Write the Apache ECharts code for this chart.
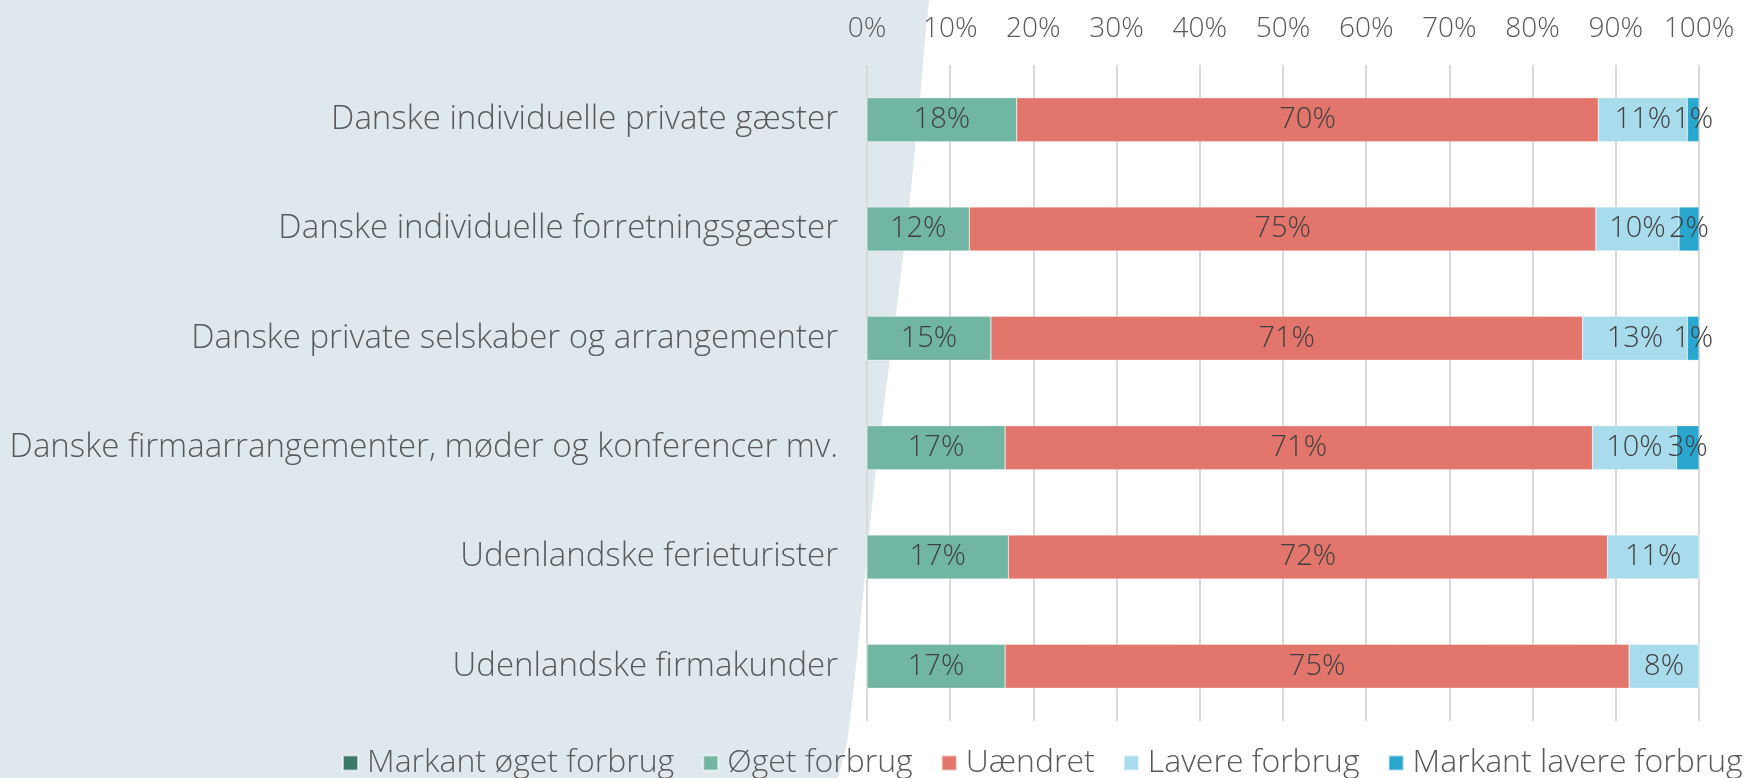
<!DOCTYPE html>
<html>
<head>
<meta charset="utf-8">
<script src="https://cdn.jsdelivr.net/npm/echarts@6/dist/echarts.min.js"></script>
<style>
html,body{margin:0;padding:0;background:#fff;}
#chart{width:1757px;height:778px;}
</style>
</head>
<body>
<div id="chart"></div>
<script>
const categories = [
  'Danske individuelle private gæster',
  'Danske individuelle forretningsgæster',
  'Danske private selskaber og arrangementer',
  'Danske firmaarrangementer, møder og konferencer mv.',
  'Udenlandske ferieturister',
  'Udenlandske firmakunder'
];
const seriesNames = ['Markant øget forbrug', 'Øget forbrug', 'Uændret', 'Lavere forbrug', 'Markant lavere forbrug'];
const markantOget = [0, 0, 0, 0, 0, 0];
const oget = [18.0, 12.3, 14.9, 16.6, 17.0, 16.6];
const uaendret = [69.9, 75.3, 71.1, 70.6, 72.0, 75.0];
const lavere = [10.7, 10.0, 12.6, 10.1, 11.0, 8.4];
const markantLavere = [1.4, 2.4, 1.4, 2.7, 0, 0];
const tickLabels = ['0%','10%','20%','30%','40%','50%','60%','70%','80%','90%','100%'];

const colors = ['#3b7a69', '#70b6a3', '#e2756c', '#a8dcec', '#29a7cf'];
const FONT = '"Open Sans", Lato, sans-serif';
const WEIGHT = 300;

const chart = echarts.init(document.getElementById('chart'), null, {renderer: 'canvas'});

// decorative background shape on the left
const edge = [[929,0],[924,50],[920,99],[910,199],[898,298],[885,397],[873,496],[863,596],[853,695],[847,744],[838,778]];
const shapePts = [[0,0]].concat(edge).concat([[0,778]]);

const allData = [markantOget, oget, uaendret, lavere, markantLavere];

const series = seriesNames.map((name, i) => ({
  name: name,
  type: 'bar',
  stack: 'total',
  barWidth: 44,
  data: allData[i],
  itemStyle: {color: colors[i], borderColor: 'rgba(255,255,255,0.6)', borderWidth: 0.5},
  label: {
    show: true,
    position: 'inside',
    color: '#404040',
    fontFamily: FONT,
    fontWeight: WEIGHT,
    fontSize: 29,
    formatter: p => p.value > 0 ? Math.round(p.value) + '%' : ''
  },
  emphasis: {disabled: true}
}));

chart.setOption({
  animation: false,
  backgroundColor: '#ffffff',
  color: colors,
  graphic: [{
    type: 'polygon',
    z: -10,
    silent: true,
    shape: {points: shapePts},
    style: {fill: '#dfe9ed'}
  }],
  grid: {left: 867, right: 58, top: 65, bottom: 57, containLabel: false},
  legend: {
    data: seriesNames,
    left: 337,
    top: 742,
    icon: 'rect',
    itemWidth: 15,
    itemHeight: 15,
    itemGap: 28,
    textStyle: {fontFamily: FONT, fontWeight: WEIGHT, fontSize: 32, color: '#595959', padding: [0,0,0,4]}
  },
  xAxis: {
    type: 'value',
    position: 'top',
    min: 0,
    max: 100,
    interval: 10,
    axisLine: {show: false},
    axisTick: {show: false},
    axisLabel: {
      margin: 22,
      fontFamily: FONT,
      fontWeight: WEIGHT,
      fontSize: 28,
      color: '#595959',
      formatter: v => tickLabels[Math.round(v / 10)]
    },
    splitLine: {show: true, lineStyle: {color: '#d9d9d9', width: 2}}
  },
  yAxis: {
    type: 'category',
    inverse: true,
    data: categories,
    axisLine: {show: false},
    axisTick: {show: false},
    axisLabel: {margin: 29, fontFamily: FONT, fontWeight: WEIGHT, fontSize: 33, color: '#595959'}
  },
  series: series
});
</script>
</body>
</html>
